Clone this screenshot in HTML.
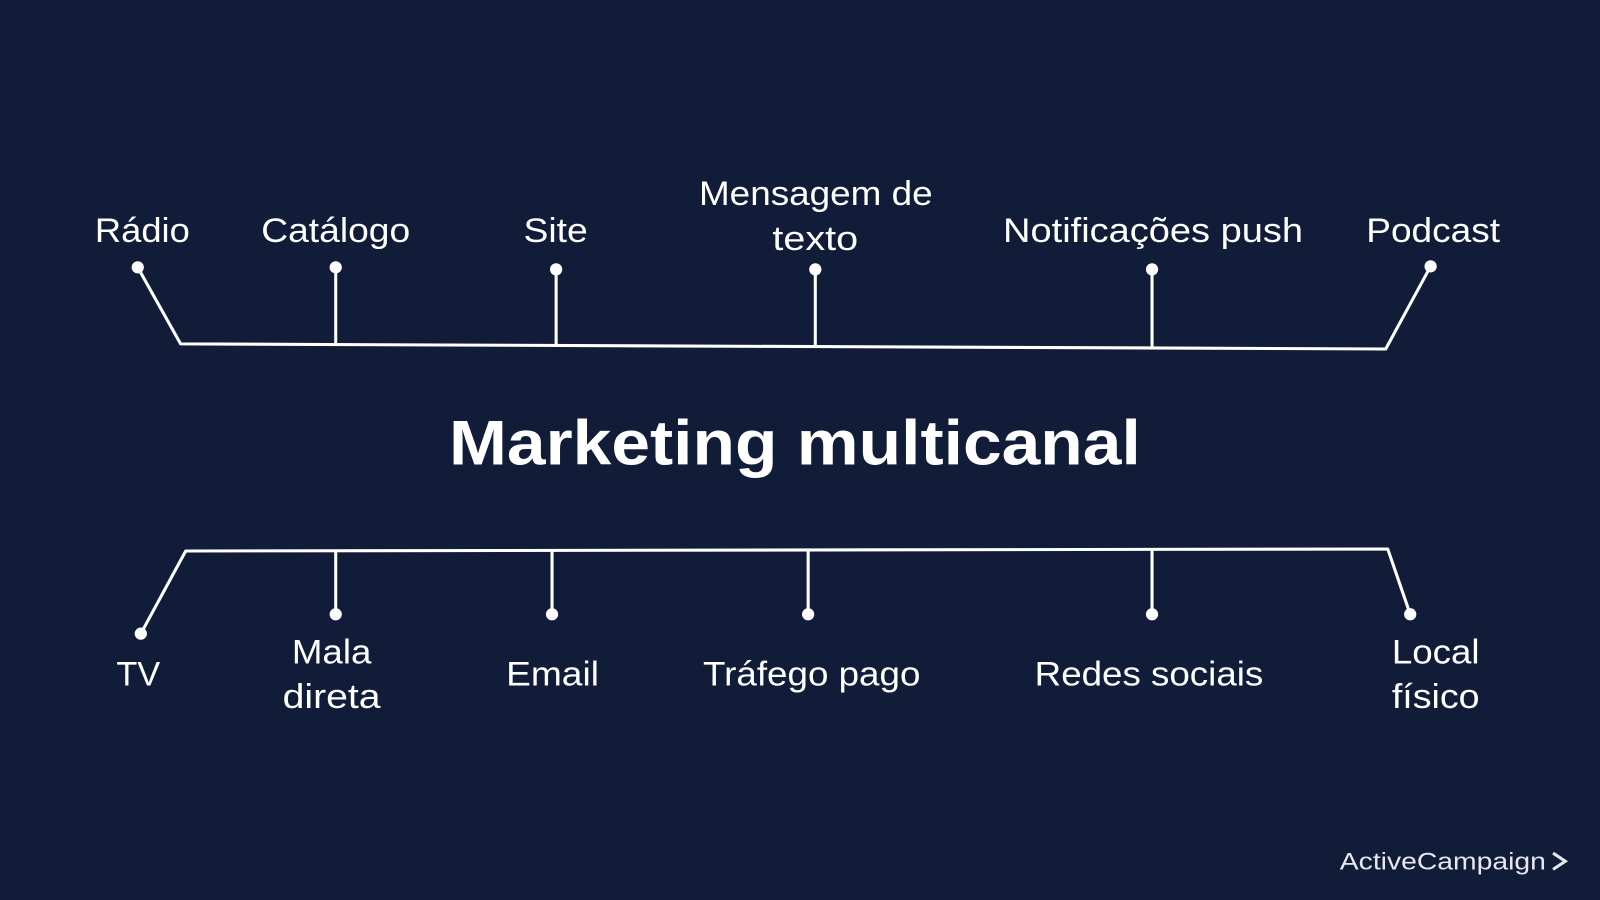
<!DOCTYPE html>
<html><head><meta charset="utf-8"><style>
html,body{margin:0;padding:0;background:#101c38;width:1600px;height:900px;overflow:hidden}
svg{display:block}
text{font-family:"Liberation Sans",sans-serif;fill:#fff}
</style></head><body>
<svg width="1600" height="900" viewBox="0 0 1568 882" preserveAspectRatio="none">
<rect width="1568" height="882" fill="#101c38"/>
<g stroke="#fff" stroke-width="3" fill="none" stroke-linejoin="round">
<polyline points="135,262 177,337 1358,342 1402,261"/>
<line x1="329" y1="262" x2="329" y2="338"/>
<line x1="545" y1="264" x2="545" y2="339"/>
<line x1="799" y1="264" x2="799" y2="340"/>
<line x1="1129" y1="264" x2="1129" y2="341"/>
<polyline points="138,621 182,540 1360,538 1382,602"/>
<line x1="329" y1="540" x2="329" y2="602"/>
<line x1="541" y1="540" x2="541" y2="602"/>
<line x1="792" y1="539" x2="792" y2="602"/>
<line x1="1129" y1="539" x2="1129" y2="602"/>
</g>
<g fill="#fff">
<circle cx="135" cy="262" r="6"/><circle cx="329" cy="262" r="6"/><circle cx="545" cy="264" r="6"/>
<circle cx="799" cy="264" r="6"/><circle cx="1129" cy="264" r="6"/><circle cx="1402" cy="261" r="6"/>
<circle cx="138" cy="621" r="6"/><circle cx="329" cy="602" r="6"/><circle cx="541" cy="602" r="6"/>
<circle cx="792" cy="602" r="6"/><circle cx="1129" cy="602" r="6"/><circle cx="1382" cy="602" r="6"/>
</g>
<g font-size="34">
<text x="93" y="237" textLength="93" lengthAdjust="spacingAndGlyphs">Rádio</text>
<text x="256" y="237" textLength="146" lengthAdjust="spacingAndGlyphs">Catálogo</text>
<text x="513" y="237" textLength="63" lengthAdjust="spacingAndGlyphs">Site</text>
<text x="685" y="201" textLength="229" lengthAdjust="spacingAndGlyphs">Mensagem de</text>
<text x="757" y="245" textLength="84" lengthAdjust="spacingAndGlyphs">texto</text>
<text x="983" y="237" textLength="294" lengthAdjust="spacingAndGlyphs">Notificações push</text>
<text x="1339" y="237" textLength="131" lengthAdjust="spacingAndGlyphs">Podcast</text>
<text x="114" y="672" textLength="43" lengthAdjust="spacingAndGlyphs">TV</text>
<text x="286" y="650" textLength="78" lengthAdjust="spacingAndGlyphs">Mala</text>
<text x="277" y="694" textLength="96" lengthAdjust="spacingAndGlyphs">direta</text>
<text x="496" y="672" textLength="91" lengthAdjust="spacingAndGlyphs">Email</text>
<text x="689" y="672" textLength="213" lengthAdjust="spacingAndGlyphs">Tráfego pago</text>
<text x="1014" y="672" textLength="224" lengthAdjust="spacingAndGlyphs">Redes sociais</text>
<text x="1364" y="650" textLength="86" lengthAdjust="spacingAndGlyphs">Local</text>
<text x="1364" y="694" textLength="86" lengthAdjust="spacingAndGlyphs">físico</text>
</g>
<text x="440" y="455" font-size="62" font-weight="bold" textLength="678" lengthAdjust="spacingAndGlyphs">Marketing multicanal</text>
<text x="1313" y="852" font-size="24" textLength="202" lengthAdjust="spacingAndGlyphs" style="fill:#e6e8ee">ActiveCampaign</text>
<polyline points="1522,836 1534,844 1522,852" stroke="#e6e8ee" stroke-width="3" fill="none"/>
</svg>
</body></html>
